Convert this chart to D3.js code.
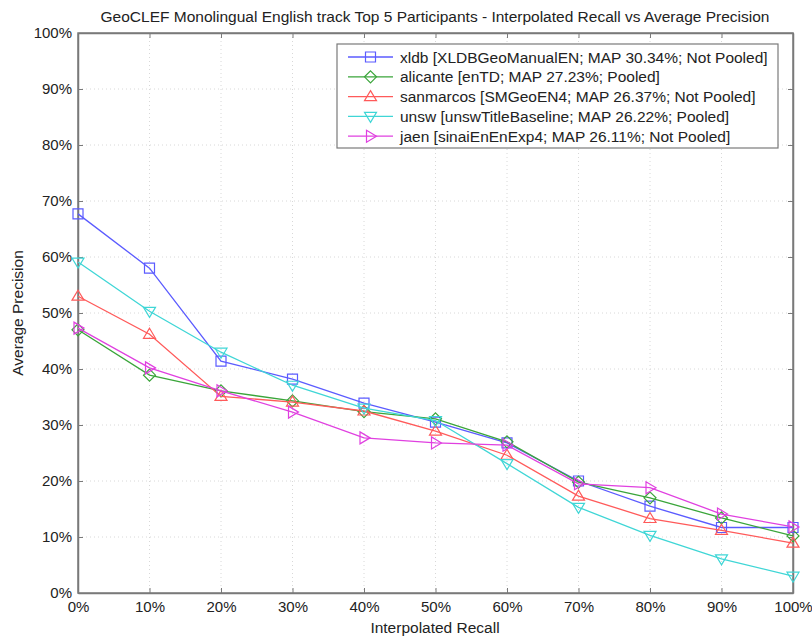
<!DOCTYPE html>
<html><head><meta charset="utf-8">
<script src="https://cdn.jsdelivr.net/npm/d3@7/dist/d3.min.js"></script>
<style>body{margin:0;background:#fff}svg{font-family:"Liberation Sans",Arial,sans-serif}</style>
</head><body><svg id="c" width="812" height="639"></svg>
<script>
const recall = [0,10,20,30,40,50,60,70,80,90,100];
const yTicks = [0,10,20,30,40,50,60,70,80,90,100];
const xldb      = [67.7,58.0,41.4,38.2,33.9,30.5,26.8,20.0,15.5,11.7,11.7];
const alicante  = [47.0,38.9,36.1,34.3,32.4,31.1,27.0,19.8,17.0,13.4,10.2];
const sanmarcos = [53.0,46.2,35.1,34.1,32.5,28.9,24.6,17.3,13.3,11.2,8.9];
const unsw      = [59.1,50.3,43.0,37.1,33.0,30.8,23.1,15.3,10.3,6.1,3.0];
const jaen      = [47.3,40.2,36.1,32.3,27.7,26.8,26.4,19.5,18.8,14.1,11.8];
const labels = [
 "xldb [XLDBGeoManualEN; MAP 30.34%; Not Pooled]",
 "alicante [enTD; MAP 27.23%; Pooled]",
 "sanmarcos [SMGeoEN4; MAP 26.37%; Not Pooled]",
 "unsw [unswTitleBaseline; MAP 26.22%; Pooled]",
 "jaen [sinaiEnEnExp4; MAP 26.11%; Not Pooled]"
];
const seriesData = [xldb, alicante, sanmarcos, unsw, jaen];
const colors = ["#5b5bff","#3aa53a","#ff5a5a","#3fd6d6","#e040e0"];
const markers = ["square","diamond","up","down","right"];

const svg = d3.select("#c");
const L=78,R=793,T=33,B=593;
const x = d3.scaleLinear().domain([0,100]).range([L,R]);
const y = d3.scaleLinear().domain([0,100]).range([B,T]);
const axisCol = "#7a7a7a";

// grid
const g = svg.append("g");
g.selectAll(".gx").data(recall.slice(1,-1)).enter().append("line")
 .attr("x1",d=>x(d)).attr("x2",d=>x(d)).attr("y1",T).attr("y2",B)
 .attr("stroke","#d8d8d8").attr("stroke-dasharray","1,3");
g.selectAll(".gy").data(yTicks.slice(1,-1)).enter().append("line")
 .attr("y1",d=>y(d)).attr("y2",d=>y(d)).attr("x1",L).attr("x2",R)
 .attr("stroke","#d8d8d8").attr("stroke-dasharray","1,3");

// axes
const fmt = d=>d+"%";
const ax = svg.append("g").attr("transform",`translate(0,${B})`)
 .call(d3.axisBottom(x).tickValues(recall).tickFormat(fmt).tickSizeInner(-5).tickSizeOuter(0).tickPadding(8));
const axT = svg.append("g").attr("transform",`translate(0,${T})`)
 .call(d3.axisTop(x).tickValues(recall).tickFormat("").tickSizeInner(-5).tickSizeOuter(0));
const ay = svg.append("g").attr("transform",`translate(${L},0)`)
 .call(d3.axisLeft(y).tickValues(yTicks).tickFormat(fmt).tickSizeInner(-5).tickSizeOuter(0).tickPadding(6));
const ayR = svg.append("g").attr("transform",`translate(${R},0)`)
 .call(d3.axisRight(y).tickValues(yTicks).tickFormat("").tickSizeInner(-5).tickSizeOuter(0));
[ax,axT,ay,ayR].forEach(a=>{
 a.select(".domain").attr("stroke",axisCol).attr("stroke-width",1.5);
 a.selectAll(".tick line").attr("stroke",axisCol);
 a.selectAll("text").attr("font-size",15).attr("fill","#222").attr("font-family","'Liberation Sans',Arial,sans-serif");
});
svg.append("rect").attr("x",L).attr("y",T).attr("width",R-L).attr("height",B-T)
 .attr("fill","none").attr("stroke",axisCol).attr("stroke-width",1.5);

function marker(sel,type,cx,cy,col){
 let p;
 const s=5;
 if(type==="square") p=`M${cx-s},${cy-s}h${2*s}v${2*s}h${-2*s}Z`;
 if(type==="diamond") p=`M${cx},${cy-s-1}L${cx+s+1},${cy}L${cx},${cy+s+1}L${cx-s-1},${cy}Z`;
 if(type==="up") p=`M${cx},${cy-s-1}L${cx+s+1},${cy+s-1}L${cx-s-1},${cy+s-1}Z`;
 if(type==="down") p=`M${cx},${cy+s+1}L${cx+s+1},${cy-s+1}L${cx-s-1},${cy-s+1}Z`;
 if(type==="right") p=`M${cx+s+1},${cy}L${cx-s+1},${cy-s-1}L${cx-s+1},${cy+s+1}Z`;
 sel.append("path").attr("d",p).attr("fill","none").attr("stroke",col).attr("stroke-width",1.2);
}

const line = d3.line().x((d,i)=>x(recall[i])).y(d=>y(d));
seriesData.forEach((s,k)=>{
 const gs = svg.append("g");
 gs.append("path").datum(s).attr("d",line).attr("fill","none").attr("stroke",colors[k]).attr("stroke-width",1.3);
 s.forEach((v,i)=>marker(gs,markers[k],x(recall[i]),y(v),colors[k]));
});

// legend
const lg = svg.append("g");
lg.append("rect").attr("x",337).attr("y",44).attr("width",441).attr("height",104)
 .attr("fill","#fff").attr("stroke",axisCol).attr("stroke-width",1.2);
labels.forEach((t,k)=>{
 const yy = 57 + k*19.8;
 lg.append("line").attr("x1",348).attr("x2",393).attr("y1",yy).attr("y2",yy).attr("stroke",colors[k]).attr("stroke-width",1.3);
 marker(lg,markers[k],370.5,yy,colors[k]);
 lg.append("text").attr("x",400).attr("y",yy+5.5).attr("font-size",15.5).attr("fill","#222").text(t);
});

// titles
svg.append("text").attr("x",435).attr("y",22).attr("text-anchor","middle").attr("font-size",15.5).attr("fill","#222")
 .text("GeoCLEF Monolingual English track Top 5 Participants - Interpolated Recall vs Average Precision");
svg.append("text").attr("x",435).attr("y",633).attr("text-anchor","middle").attr("font-size",15.5).attr("fill","#222")
 .text("Interpolated Recall");
svg.append("text").attr("transform","translate(23,313) rotate(-90)").attr("text-anchor","middle").attr("font-size",15.5).attr("fill","#222")
 .text("Average Precision");
</script></body></html>
